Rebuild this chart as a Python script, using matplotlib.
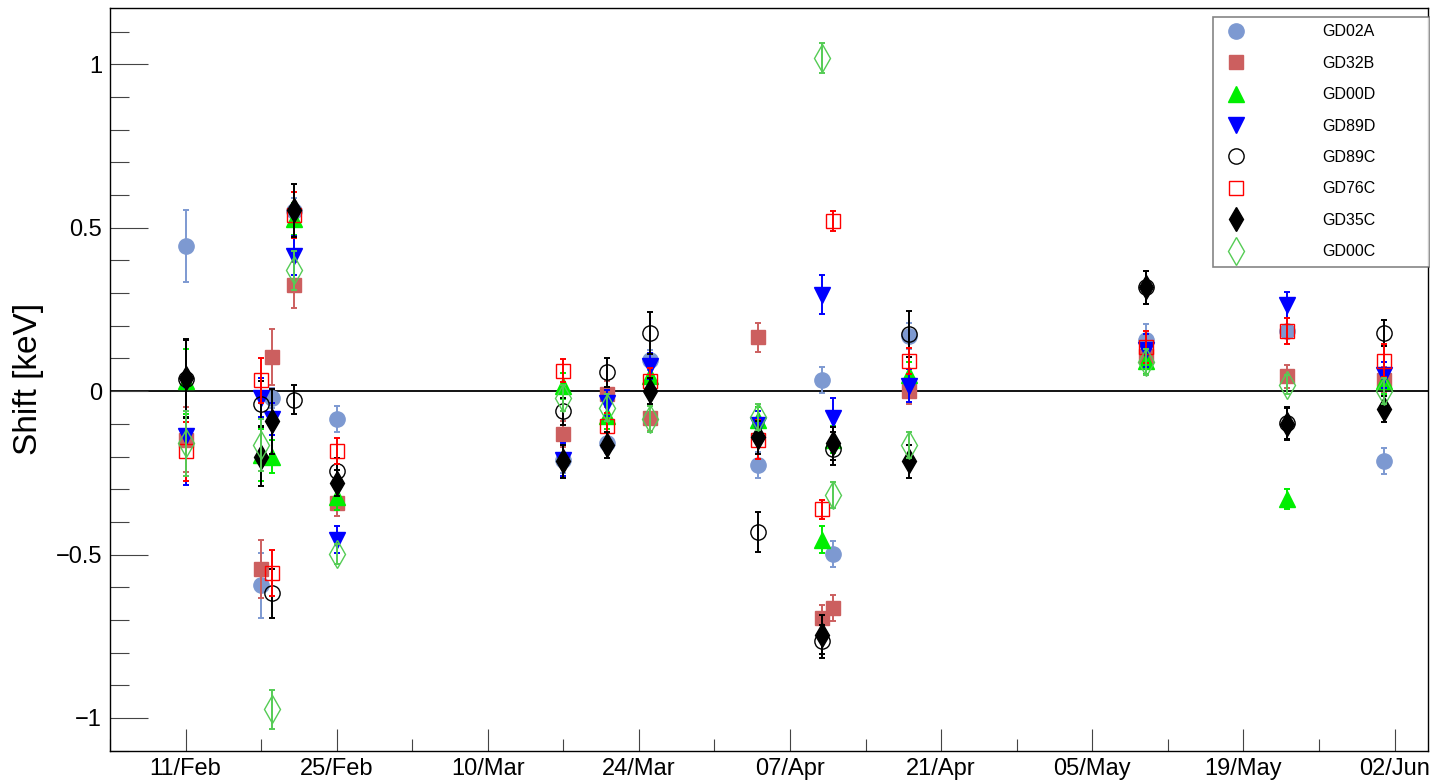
import datetime as dt
import matplotlib
matplotlib.use("Agg")
import matplotlib.pyplot as plt
import matplotlib.dates as mdates
from matplotlib.lines import Line2D
from matplotlib.ticker import MultipleLocator, FuncFormatter

plt.rcParams["font.family"] = ["Liberation Sans", "DejaVu Sans"]

# Calibration dates
dates = ["2020-02-11", "2020-02-18", "2020-02-19", "2020-02-21", "2020-02-25",
         "2020-03-17", "2020-03-21", "2020-03-25", "2020-04-04", "2020-04-10",
         "2020-04-11", "2020-04-18", "2020-05-10", "2020-05-23", "2020-06-01"]

# Peak shift per detector [keV] and its uncertainty
gd02a = [0.445, -0.594, -0.021, 0.550, -0.085, -0.210, -0.158, 0.096, -0.227, 0.035, -0.498, 0.170, 0.157, 0.185, -0.213]
gd02a_err = [0.11, 0.10, 0.03, 0.04, 0.04, 0.04, 0.03, 0.03, 0.04, 0.04, 0.04, 0.04, 0.05, 0.04, 0.04]
gd32b = [-0.148, -0.544, 0.105, 0.326, -0.342, -0.130, -0.008, -0.082, 0.165, -0.694, -0.663, 0.000, 0.107, 0.045, 0.033]
gd32b_err = [0.10, 0.09, 0.085, 0.07, 0.04, 0.04, 0.04, 0.04, 0.045, 0.04, 0.04, 0.04, 0.04, 0.035, 0.04]
gd00d = [0.030, -0.195, -0.200, 0.527, -0.323, 0.015, -0.075, 0.045, -0.087, -0.454, -0.148, 0.050, 0.093, -0.330, 0.030]
gd00d_err = [0.10, 0.08, 0.05, 0.05, 0.04, 0.04, 0.04, 0.04, 0.04, 0.04, 0.04, 0.04, 0.04, 0.03, 0.04]
gd89d = [-0.136, -0.020, -0.085, 0.414, -0.454, -0.210, -0.035, 0.076, -0.102, 0.295, -0.082, 0.017, 0.125, 0.265, 0.050]
gd89d_err = [0.15, 0.06, 0.05, 0.06, 0.04, 0.05, 0.04, 0.04, 0.04, 0.06, 0.06, 0.05, 0.05, 0.04, 0.04]
gd89c = [0.037, -0.038, -0.618, -0.026, -0.245, -0.062, 0.058, 0.178, -0.431, -0.765, -0.176, 0.175, 0.318, -0.097, 0.178]
gd89c_err = [0.12, 0.07, 0.075, 0.045, 0.04, 0.04, 0.045, 0.065, 0.06, 0.05, 0.05, 0.07, 0.05, 0.05, 0.04]
gd76c = [-0.184, 0.033, -0.557, 0.540, -0.182, 0.063, -0.107, 0.030, -0.148, -0.362, 0.521, 0.093, 0.135, 0.185, 0.093]
gd76c_err = [0.09, 0.07, 0.07, 0.07, 0.04, 0.035, 0.04, 0.04, 0.06, 0.03, 0.03, 0.04, 0.05, 0.04, 0.05]
gd35c = [0.040, -0.200, -0.092, 0.553, -0.281, -0.215, -0.165, 0.000, -0.141, -0.745, -0.160, -0.215, 0.318, -0.100, -0.054]
gd35c_err = [0.12, 0.09, 0.10, 0.08, 0.04, 0.05, 0.04, 0.04, 0.05, 0.06, 0.05, 0.05, 0.05, 0.05, 0.04]
gd00c = [-0.160, -0.164, -0.974, 0.370, -0.498, -0.020, -0.050, -0.085, -0.080, 1.019, -0.317, -0.164, 0.090, 0.020, 0.000]
gd00c_err = [0.10, 0.08, 0.06, 0.06, 0.03, 0.04, 0.04, 0.04, 0.04, 0.045, 0.04, 0.04, 0.04, 0.03, 0.04]

labels = ["GD02A", "GD32B", "GD00D", "GD89D", "GD89C", "GD76C", "GD35C", "GD00C"]
values = [gd02a, gd32b, gd00d, gd89d, gd89c, gd76c, gd35c, gd00c]
errors = [gd02a_err, gd32b_err, gd00d_err, gd89d_err, gd89c_err, gd76c_err, gd35c_err, gd00c_err]

# marker, colour, filled, size
styles = [
    ("o", "#7d99d1", True, 11),
    ("s", "#cc5f5f", True, 10),
    ("^", "#00ee00", True, 11),
    ("v", "#0000ff", True, 11),
    ("o", "#000000", False, 11),
    ("s", "#ff0000", False, 10),
    ("d", "#000000", True, 12),
    ("d", "#55cc55", False, 14),
]

x = mdates.date2num([dt.datetime.strptime(d, "%Y-%m-%d") for d in dates])

fig = plt.figure(figsize=(14.3, 7.84), dpi=100)
ax = fig.add_axes([110 / 1430, 33 / 784, 1318 / 1430, 743.5 / 784])

ax.axhline(0, color="black", lw=1.3, zorder=1)

handles = []
for i, (lab, v, e, (m, c, filled, ms)) in enumerate(zip(labels, values, errors, styles)):
    fc = c if filled else "none"
    ax.errorbar(x, v, yerr=e, fmt="none", ecolor=c, elinewidth=1.4,
                capsize=2, capthick=1.4, zorder=2 + i)
    ax.plot(x, v, ls="none", marker=m, ms=ms, mfc=fc, mec=c,
            mew=1.0, zorder=2.5 + i)
    handles.append(Line2D([], [], ls="none", marker=m, ms=ms, mfc=fc, mec=c, mew=1.0))

# axes ranges
x0 = mdates.date2num(dt.datetime(2020, 2, 11))
ax.set_xlim(x0 - 5.49, x0 + 115.1)
ax.set_ylim(-1.101, 1.174)

# date axis: labels every two weeks, minor ticks every week
major_days = [x0 + 14 * k for k in range(9)]
ax.set_xticks(major_days)
ax.set_xticks([d + 7 for d in major_days[:-1]] + [major_days[0] - 7], minor=True)
ax.xaxis.set_major_formatter(mdates.DateFormatter("%d/%b"))

ax.yaxis.set_major_locator(MultipleLocator(0.5))
ax.yaxis.set_minor_locator(MultipleLocator(0.1))
ax.yaxis.set_major_formatter(FuncFormatter(lambda v, p: ("%g" % v).replace("-", "\u2212")))

ax.tick_params(axis="y", which="major", direction="in", length=27, width=0.8,
               color="#444444", labelsize=17, pad=5.8)
ax.tick_params(axis="y", which="minor", direction="in", length=14, width=0.8,
               color="#444444")
ax.tick_params(axis="x", which="major", direction="in", length=16, width=0.8,
               color="#444444", labelsize=17, pad=5)
ax.tick_params(axis="x", which="minor", direction="in", length=8.5, width=0.8,
               color="#444444")
for s in ax.spines.values():
    s.set_linewidth(1.0)

ax.set_ylabel("Shift [keV]", fontsize=24, labelpad=8)

leg = ax.legend(handles, labels, loc="upper left",
                bbox_to_anchor=(0.8369, 0.6644, 0.1646, 0.3228), mode="expand",
                fontsize=11.5, frameon=True, fancybox=False, edgecolor="#666666",
                borderpad=0.45, handlelength=2.0, handletextpad=4.4,
                labelspacing=1.03, borderaxespad=0.0)
leg.get_frame().set_linewidth(1.2)

fig.savefig("out.png", dpi=100)
